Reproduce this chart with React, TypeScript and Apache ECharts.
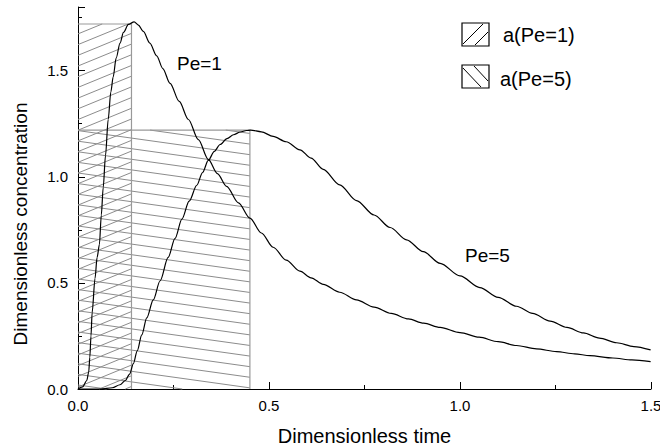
import React, { useEffect, useRef } from "react";
import * as echarts from "echarts";

// Residence-time curves, [dimensionless time, dimensionless concentration]
const pe1Curve: [number, number][] = [
  [0, 0], [0.012, 0.01], [0.023, 0.04], [0.028, 0.08], [0.031, 0.15],
  [0.034, 0.25], [0.037, 0.36], [0.0445, 0.52], [0.05, 0.62], [0.056, 0.68],
  [0.061, 0.82], [0.066, 0.95], [0.072, 1.1], [0.079, 1.27], [0.086, 1.4],
  [0.092, 1.47], [0.1, 1.56], [0.11, 1.63], [0.119, 1.68], [0.132, 1.718],
  [0.147, 1.73], [0.158, 1.715], [0.171, 1.685], [0.188, 1.63], [0.206, 1.57],
  [0.222, 1.51], [0.241, 1.44], [0.265, 1.355], [0.289, 1.27], [0.315, 1.175],
  [0.341, 1.082], [0.365, 1.015], [0.389, 0.955], [0.42, 0.877], [0.45, 0.805],
  [0.48, 0.735], [0.511, 0.668], [0.545, 0.607], [0.581, 0.555], [0.61, 0.524],
  [0.642, 0.493], [0.685, 0.456], [0.729, 0.42], [0.775, 0.386], [0.82, 0.356],
  [0.865, 0.33], [0.905, 0.31], [0.948, 0.29], [1.0, 0.266], [1.05, 0.244],
  [1.1, 0.223], [1.148, 0.205], [1.2, 0.189], [1.253, 0.176], [1.3, 0.1655],
  [1.34, 0.157], [1.4, 0.146], [1.45, 0.137], [1.499, 0.129],
];

const pe5Curve: [number, number][] = [
  [0, 0], [0.06, 0.0], [0.09, 0.006], [0.11, 0.02], [0.124, 0.04],
  [0.135, 0.07], [0.145, 0.12], [0.155, 0.18], [0.167, 0.255], [0.18, 0.335],
  [0.197, 0.42], [0.215, 0.51], [0.236, 0.62], [0.254, 0.71], [0.272, 0.8],
  [0.291, 0.885], [0.311, 0.96], [0.326, 1.02], [0.341, 1.077], [0.357, 1.12],
  [0.372, 1.152], [0.39, 1.18], [0.407, 1.198], [0.425, 1.211], [0.441, 1.218],
  [0.452, 1.22], [0.48, 1.212], [0.511, 1.19], [0.545, 1.165], [0.581, 1.127],
  [0.61, 1.088], [0.642, 1.035], [0.685, 0.962], [0.729, 0.888], [0.775, 0.82],
  [0.817, 0.761], [0.86, 0.703], [0.904, 0.647], [0.948, 0.592], [1.0, 0.533],
  [1.052, 0.478], [1.1, 0.432], [1.148, 0.39], [1.19, 0.356], [1.236, 0.32],
  [1.28, 0.29], [1.323, 0.264], [1.365, 0.24], [1.41, 0.218], [1.455, 0.2],
  [1.499, 0.184],
];

// Peak-defined areas a(Pe): time of peak and peak concentration
const areaNames = ["a(Pe=1)", "a(Pe=5)"];
const areaPeakTimes = [0.14, 0.45];
const areaPeakHeights = [1.72, 1.22];

const curveNames = ["Pe=1", "Pe=5"];

const xTicks = { min: 0, max: 1.5, interval: 0.5 };
const yTicks = { min: 0, max: 1.8, interval: 0.5 };

const FONT = "'Liberation Sans', Arial, Helvetica, sans-serif";
const HATCH = "#8c8c8c";

// Hatch settings per area: screen slope (dy/dx) and spacing between lines
const hatchStyles = [
  { slope: -0.41, gap: 10.7, phase: 2 },
  { slope: 0.14, gap: 10.6, phase: 4 },
];

function hatchRenderer(kind: number) {
  return (params: any, api: any) => {
    const t = api.value(0);
    const c = api.value(1);
    const [xl, yb] = api.coord([0, 0]);
    const [xr, yt] = api.coord([t, c]);
    const { slope, gap, phase } = hatchStyles[kind];
    const w = xr - xl;
    const children: any[] = [];
    const lo0 = Math.min(yt, yt - slope * w) - gap;
    const hi0 = Math.max(yb, yb - slope * w) + gap;
    const n = Math.ceil((hi0 - lo0) / gap) + 2;
    for (let k = -n; k <= n; k++) {
      const y0 = yb - phase - k * gap;
      const xa = xl + (yt - y0) / slope;
      const xb = xl + (yb - y0) / slope;
      const lo = Math.max(xl, Math.min(xa, xb));
      const hi = Math.min(xr, Math.max(xa, xb));
      if (hi - lo < 0.8) continue;
      children.push({
        type: "line",
        shape: {
          x1: lo, y1: y0 + slope * (lo - xl),
          x2: hi, y2: y0 + slope * (hi - xl),
        },
        style: { stroke: HATCH, lineWidth: 1 },
      });
    }
    children.push({
      type: "polyline",
      shape: { points: [[xl, yt], [xr, yt], [xr, yb]] },
      style: { stroke: "#999999", lineWidth: 1.2, fill: null },
    });
    return { type: "group", children };
  };
}

function legendBox(x: number, y: number, lines: number[][]) {
  return {
    type: "group",
    x,
    y,
    children: [
      {
        type: "rect",
        shape: { x: 0, y: 0, width: 27, height: 23 },
        style: { stroke: "#000", lineWidth: 1.2, fill: "#fff" },
      },
      ...lines.map((l) => ({
        type: "line",
        shape: { x1: l[0], y1: l[1], x2: l[2], y2: l[3] },
        style: { stroke: "#000", lineWidth: 1 },
      })),
    ],
  };
}

export default function App() {
  const ref = useRef<HTMLDivElement>(null);

  useEffect(() => {
    if (!ref.current) return;
    const chart = echarts.init(ref.current, undefined, { renderer: "svg" });

    const axisCommon = {
      type: "value" as const,
      axisLine: { show: true, lineStyle: { color: "#000", width: 1 } },
      axisTick: { show: true, inside: true, length: 7, lineStyle: { color: "#000" } },
      minorTick: { show: true, splitNumber: 2, length: 4, lineStyle: { color: "#000" } },
      splitLine: { show: false },
      axisLabel: {
        color: "#000",
        fontSize: 15,
        fontFamily: FONT,
        formatter: (v: number) => v.toFixed(1),
      },
    };

    chart.setOption({
      animation: false,
      backgroundColor: "#fff",
      grid: {
        left: 78,
        right: 9,
        top: 7,
        bottom: 58,
        containLabel: false,
        outerBoundsMode: "none",
      },
      xAxis: {
        ...axisCommon,
        ...xTicks,
        axisLabel: { ...axisCommon.axisLabel, margin: 9 },
        name: "Dimensionless time",
        nameLocation: "middle",
        nameGap: 37,
        nameTextStyle: { color: "#000", fontSize: 20, fontFamily: FONT },
      },
      yAxis: {
        ...axisCommon,
        ...yTicks,
        axisLabel: { ...axisCommon.axisLabel, margin: 10, showMaxLabel: false },
      },
      graphic: [
        {
          type: "text",
          x: 20,
          y: 224,
          rotation: Math.PI / 2,
          style: {
            text: "Dimensionless concentration",
            fontSize: 19,
            fontFamily: FONT,
            fill: "#000",
            align: "center",
            verticalAlign: "middle",
          },
        },
        {
          type: "text",
          x: 177,
          y: 63,
          style: {
            text: curveNames[0],
            fontSize: 19,
            fontFamily: FONT,
            fill: "#000",
            verticalAlign: "middle",
          },
        },
        {
          type: "text",
          x: 465,
          y: 255,
          style: {
            text: curveNames[1],
            fontSize: 19,
            fontFamily: FONT,
            fill: "#000",
            verticalAlign: "middle",
          },
        },
        legendBox(462, 23, [[1, 21, 21, 1], [13, 22, 26, 9]]),
        {
          type: "text",
          x: 503,
          y: 35,
          style: {
            text: areaNames[0],
            fontSize: 20,
            fontFamily: FONT,
            fill: "#000",
            verticalAlign: "middle",
          },
        },
        legendBox(462, 65, [[1, 3, 19, 22], [12, 1, 26, 16]]),
        {
          type: "text",
          x: 500,
          y: 79,
          style: {
            text: areaNames[1],
            fontSize: 20,
            fontFamily: FONT,
            fill: "#000",
            verticalAlign: "middle",
          },
        },
      ],
      series: [
        {
          name: areaNames[1],
          type: "custom",
          renderItem: hatchRenderer(1),
          encode: { x: 0, y: 1 },
          data: [[areaPeakTimes[1], areaPeakHeights[1]]],
          z: 1,
        },
        {
          name: areaNames[0],
          type: "custom",
          renderItem: hatchRenderer(0),
          encode: { x: 0, y: 1 },
          data: [[areaPeakTimes[0], areaPeakHeights[0]]],
          z: 1,
        },
        {
          name: curveNames[0],
          type: "line",
          data: pe1Curve,
          showSymbol: false,
          smooth: 0.3,
          smoothMonotone: "x",
          lineStyle: { color: "#000", width: 1.2 },
          z: 3,
        },
        {
          name: curveNames[1],
          type: "line",
          data: pe5Curve,
          showSymbol: false,
          smooth: 0.3,
          smoothMonotone: "x",
          lineStyle: { color: "#000", width: 1.2 },
          z: 3,
        },
      ],
    });

    return () => chart.dispose();
  }, []);

  return (
    <div
      ref={ref}
      style={{ position: "fixed", left: 0, top: 0, width: 660, height: 447 }}
    />
  );
}
